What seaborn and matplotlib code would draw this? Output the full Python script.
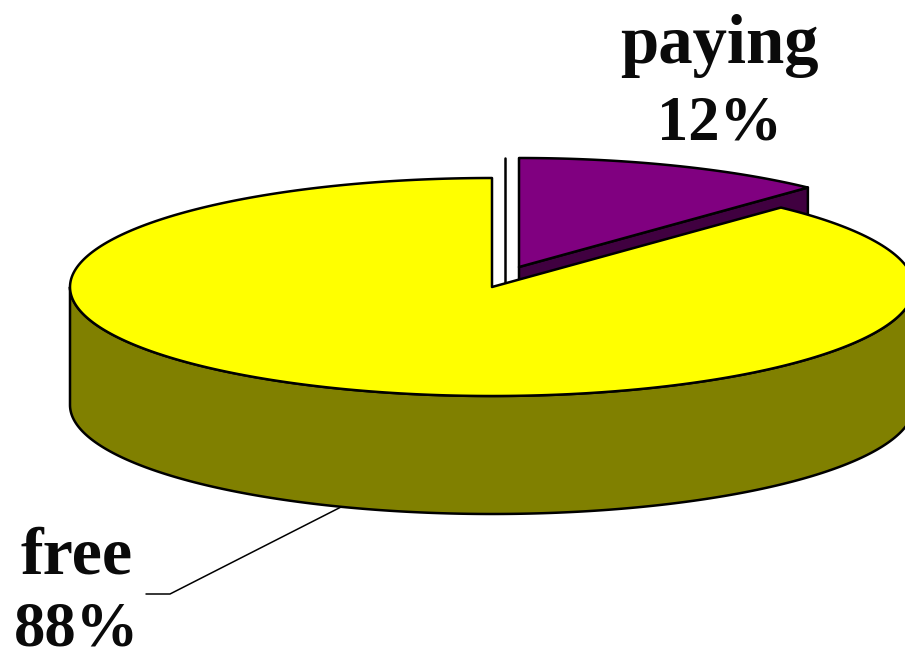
import numpy as np
import matplotlib
matplotlib.use("Agg")
import matplotlib.pyplot as plt
import seaborn as sns

# Data
categories = ["paying", "free"]
shares = [12, 88]
top_colors = ["#800080", "#FFFF00"]
side_colors = ["#400040", "#808000"]

sns.set_theme(style="white")
plt.rcParams["font.family"] = ["Liberation Serif", "DejaVu Serif"]

fig, ax = plt.subplots(figsize=(9.05, 6.59), dpi=100)
ax.set_position([0, 0, 1, 1])
ax.set_xlim(0, 905)
ax.set_ylim(659, 0)
ax.axis("off")

# Projected pie geometry (pixels)
CX, CY, A, B, DEPTH = 492, 287, 422, 109, 118
OFFSET = (27, -20)      # explosion of the paying slice
LW = 1.8


def rim(a0, a1, cx, cy, dy=0):
    t = np.radians(np.linspace(a0, a1, 300))
    return cx + A * np.sin(t), cy - B * np.cos(t) + dy


def poly(x, y, color, z):
    ax.fill(x, y, facecolor=color, edgecolor="black", lw=LW, joinstyle="round", zorder=z)


ang = np.cumsum([0] + shares) * 3.6

# paying slice (exploded): extrusion, then top
px, py = CX + OFFSET[0], CY + OFFSET[1]
ex, ey = rim(ang[0], ang[1], px, py)
cut_x = [px, ex[-1], ex[-1], px]
cut_y = [py, ey[-1], ey[-1] + DEPTH, py + DEPTH]
poly(cut_x, cut_y, side_colors[0], 2)
poly(np.r_[px, ex], np.r_[py, ey], top_colors[0], 3)

# back edge visible in the gap between the slices
ax.plot([(CX + px) / 2 - 0.5] * 2, [py - B, CY], color="black", lw=LW, zorder=1)

# free slice: front wall, then top
wx, wy = rim(90, 270, CX, CY)
wbx, wby = rim(270, 90, CX, CY, DEPTH)
poly(np.r_[wx, wbx], np.r_[wy, wby], side_colors[1], 4)
fx, fy = rim(ang[1], ang[2], CX, CY)
poly(np.r_[CX, fx], np.r_[CY, fy], top_colors[1], 5)

# labels
font = dict(fontweight="bold", color="#0a0a0a", ha="center", va="baseline", zorder=6)
ax.text(719, 63, categories[0], fontsize=49.5, **font)
ax.text(719, 140, f"{shares[0]}%", fontsize=45, **font)
ax.text(76.5, 573, categories[1], fontsize=49, **font)
ax.text(76, 645, f"{shares[1]}%", fontsize=45, **font)

# leader line
ax.plot([343, 170, 146], [506, 594, 594], color="black", lw=1.1, zorder=3)

sns.despine(ax=ax, left=True, bottom=True)
fig.savefig("out.png", dpi=100, facecolor="white")
